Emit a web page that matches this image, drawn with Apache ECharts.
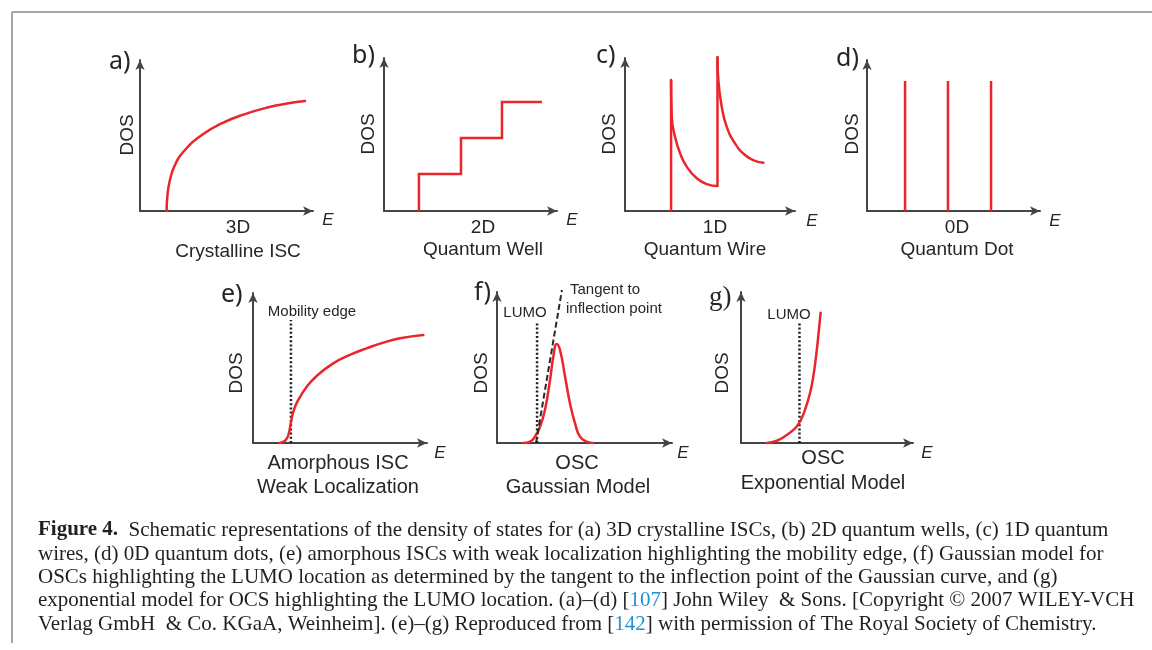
<!DOCTYPE html>
<html><head><meta charset="utf-8">
<script src="https://cdn.jsdelivr.net/npm/echarts@6/dist/echarts.min.js"></script>
<style>html,body{margin:0;padding:0;background:#fff}#c{width:1152px;height:650px}</style>
</head><body><div id="c"></div>
<script>
// ---------- data (schematic values, axis units 0..100) ----------
// a) 3D crystalline
const aE   = [15.4, 15.8, 17.3, 20.2, 26.0, 35.7, 47.2, 60.7, 74.2, 85.7, 95.4];
const aDOS = [0, 9.5, 20.5, 30.5, 40.4, 50.3, 58.1, 64.2, 68.7, 71.3, 72.8];
// b) 2D quantum well (steps)
const bE   = [20.2, 20.2, 44.5, 44.5, 68.2, 68.2, 91.3];
const bDOS = [0, 24.2, 24.2, 47.7, 47.7, 71.2, 71.2];
// c) 1D quantum wire
const cRiseE   = [27.1, 54.4];          // vertical edges
const cRiseLow = [0, 16.3];
const cRiseTop = [85.6, 100.7];
const cDecay1E   = [27.1, 27.5, 29.4, 32.4, 36.3, 42.2, 48.1, 54.4];
const cDecay1DOS = [85.6, 61.6, 48.6, 37.7, 29.0, 21.4, 17.6, 16.3];
const cDecay2E   = [54.4, 54.9, 56.9, 59.8, 64.7, 70.6, 76.5, 81.4];
const cDecay2DOS = [100.7, 85.6, 68.2, 55.1, 44.2, 36.6, 32.7, 31.6];
// d) 0D quantum dot
const dE   = [22.0, 46.8, 71.7];
const dDOS = [86.1, 86.1, 86.1];
// e) amorphous ISC
const eE   = [15.1, 18.4, 20.3, 21.7, 23.2, 26.0, 30.9, 36.6, 46.1, 55.7, 65.3, 74.9, 84.5, 97.9];
const eDOS = [0, 1.5, 5.3, 13.1, 20.9, 28.7, 37.5, 44.7, 53.1, 58.7, 63.1, 66.9, 69.8, 72.0];
const eEdgeE = 21.8, eEdgeTop = 82;
// f) Gaussian model
const fE   = [15.0, 18.9, 21.7, 24.6, 27.4, 30.3, 32.2, 34.1, 36.0, 38.9, 41.7, 44.6, 47.4, 51.3, 55.0];
const fDOS = [0, 0.9, 4.2, 10.8, 21.9, 41.7, 57.2, 65.6, 61.6, 43.9, 26.3, 13.0, 4.2, 0.9, 0];
const fLumoE = 22.9, fLumoTop = 80.1;
const fTanE = [22.3, 37.1], fTanDOS = [0, 101.3];
// g) exponential model
const gE   = [14.9, 20.8, 26.6, 31.4, 34.3, 37.2, 40.1, 42.0, 43.6, 44.9, 46.3];
const gDOS = [0, 1.5, 5.3, 9.7, 14.1, 21.9, 32.9, 43.9, 57.2, 70.4, 86.3];
const gLumoE = 34.0, gLumoTop = 80.1;

// ---------- texts ----------
const letters  = ['a)', 'b)', 'c)', 'd)', 'e)', 'f)', 'g)'];
const subTop   = ['3D', '2D', '1D', '0D', 'Amorphous ISC', 'OSC', 'OSC'];
const subBot   = ['Crystalline ISC', 'Quantum Well', 'Quantum Wire', 'Quantum Dot', 'Weak Localization', 'Gaussian Model', 'Exponential Model'];
const captionLines = [
  '{b|Figure 4.}  Schematic representations of the density of states for (a) 3D crystalline ISCs, (b) 2D quantum wells, (c) 1D quantum',
  'wires, (d) 0D quantum dots, (e) amorphous ISCs with weak localization highlighting the mobility edge, (f) Gaussian model for',
  'OSCs highlighting the LUMO location as determined by the tangent to the inflection point of the Gaussian curve, and (g)',
  'exponential model for OCS highlighting the LUMO location. (a)\u2013(d) [{l|107}] John Wiley  & Sons. [Copyright \u00a9 2007 WILEY-VCH',
  'Verlag GmbH  & Co. KGaA, Weinheim]. (e)\u2013(g) Reproduced from [{l|142}] with permission of The Royal Society of Chemistry.'
];

// ---------- layout ----------
const grids = [
  {left: 140, top: 60, width: 173, height: 151},
  {left: 384, top: 58, width: 173, height: 153},
  {left: 625, top: 58, width: 170, height: 153},
  {left: 867, top: 60, width: 173, height: 151},
  {left: 253, top: 293, width: 174, height: 150},
  {left: 497, top: 292, width: 175, height: 151},
  {left: 741, top: 292, width: 172, height: 151}
];
const letterPos = [[109, 62], [352, 56], [596, 56], [836, 59], [221, 295], [474, 293], [709, 298]];
const dosPos = [[128, 135], [369, 134], [610, 134], [853, 134], [237, 373], [482, 373], [723, 373]];
const ePos = [[328, 220], [572, 220], [812, 221], [1055, 221], [440, 453], [683, 453], [927, 453]];
const subTopPos = [[238, 228], [483, 228], [715, 228], [957, 228], [338, 463], [577, 463], [823, 458]];
const subBotPos = [[238, 252], [483, 250], [705, 250], [957, 250], [338, 487], [578, 487], [823, 483]];

const RED = '#e8262b', AX = '#454545', TXT = '#262626';
const SANS = '"Liberation Sans", Arial, sans-serif';

function axis(i) {
  return {
    gridIndex: i, type: 'value', min: 0, max: 100,
    axisLine: {show: true, onZero: false, lineStyle: {color: AX, width: 2}, symbol: ['none', 'arrow'], symbolSize: [7, 10]},
    axisTick: {show: false}, axisLabel: {show: false}, splitLine: {show: false}
  };
}
function zip(xs, ys) { return xs.map((x, k) => [x, ys[k]]); }
function line(i, data, style, smooth) {
  return {
    type: 'line', xAxisIndex: i, yAxisIndex: i, data: data, symbol: 'none',
    smooth: smooth || false,
    clip: false, silent: true, animation: false,
    lineStyle: Object.assign({color: RED, width: 2.5, cap: 'round', join: 'round'}, style || {})
  };
}
const dotStyle = {color: '#1e1e1e', width: 2.5, type: [2, 2.2], cap: 'butt'};

const series = [];
series.push(line(0, zip(aE, aDOS), null, 0.5));
series.push(line(1, zip(bE, bDOS), {join: 'miter', cap: 'butt'}));
cRiseE.forEach((x, k) => series.push(line(2, [[x, cRiseLow[k]], [x, cRiseTop[k]]], {cap: 'butt'})));
series.push(line(2, zip(cDecay1E, cDecay1DOS), null, 0.5));
series.push(line(2, zip(cDecay2E, cDecay2DOS), null, 0.5));
dE.forEach((x, k) => series.push(line(3, [[x, 0], [x, dDOS[k]]], {cap: 'butt'})));
series.push(line(4, [[eEdgeE, 0], [eEdgeE, eEdgeTop]], dotStyle));
series.push(line(4, zip(eE, eDOS), null, 0.5));
series.push(line(5, [[fLumoE, 0], [fLumoE, fLumoTop]], dotStyle));
series.push(line(5, zip(fE, fDOS), null, 0.5));
series.push(line(5, zip(fTanE, fTanDOS), {color: '#2a2a2a', width: 2, type: [6, 3], cap: 'butt'}));
series.push(line(6, [[gLumoE, 0], [gLumoE, gLumoTop]], dotStyle));
series.push(line(6, zip(gE, gDOS), null, 0.5));

function txt(x, y, text, font, align, extra) {
  return Object.assign({
    type: 'text', x: x, y: y, silent: true,
    style: {text: text, font: font, fill: TXT, align: align || 'center', textAlign: align || 'center',
            verticalAlign: 'middle', textVerticalAlign: 'middle'}
  }, extra || {});
}

const graphic = [];
// frame
graphic.push({type: 'line', shape: {x1: 12, y1: 12, x2: 1152, y2: 12}, style: {stroke: '#8a8a8a', lineWidth: 1.5}, silent: true});
graphic.push({type: 'line', shape: {x1: 12, y1: 12, x2: 12, y2: 643}, style: {stroke: '#8a8a8a', lineWidth: 1.5}, silent: true});

letters.forEach((t, i) => {
  const f = i === 6 ? '27px "Liberation Serif", serif' : '25px "Noto Sans", sans-serif';
  graphic.push(txt(letterPos[i][0], letterPos[i][1], t, f, 'left'));
  graphic.push(txt(dosPos[i][0], dosPos[i][1], 'DOS', '19px ' + SANS, 'center', {rotation: Math.PI / 2}));
  graphic.push(txt(ePos[i][0], ePos[i][1], 'E', 'italic 17px ' + SANS, 'center'));
  const fs = i < 4 ? '19px ' : '20px ';
  graphic.push(txt(subTopPos[i][0], subTopPos[i][1], subTop[i], fs + SANS, 'center'));
  graphic.push(txt(subBotPos[i][0], subBotPos[i][1], subBot[i], fs + SANS, 'center'));
});
graphic.push(txt(312, 312, 'Mobility edge', '15px ' + SANS, 'center'));
graphic.push(txt(525, 313, 'LUMO', '15px ' + SANS, 'center'));
graphic.push(txt(570, 290, 'Tangent to', '15px ' + SANS, 'left'));
graphic.push(txt(566, 309, 'inflection point', '15px ' + SANS, 'left'));
graphic.push(txt(789, 315, 'LUMO', '15px ' + SANS, 'center'));

// caption
const SERIF = '"Liberation Serif", "Times New Roman", serif';
const capY = [530, 554, 577, 600, 624];
captionLines.forEach((t, k) => {
  graphic.push({
    type: 'text', x: 38, y: capY[k], silent: true,
    style: {
      text: t, font: '21px ' + SERIF, fill: '#231f20',
      align: 'left', textAlign: 'left', verticalAlign: 'middle', textVerticalAlign: 'middle',
      rich: {
        b: {font: 'bold 21px ' + SERIF, fill: '#231f20'},
        l: {font: '21px ' + SERIF, fill: '#1f8fd6'}
      }
    }
  });
});

const chart = echarts.init(document.getElementById('c'), null, {renderer: 'canvas'});
chart.setOption({
  backgroundColor: '#fff',
  animation: false,
  grid: grids,
  xAxis: grids.map((g, i) => axis(i)),
  yAxis: grids.map((g, i) => axis(i)),
  series: series,
  graphic: graphic
});
</script></body></html>
